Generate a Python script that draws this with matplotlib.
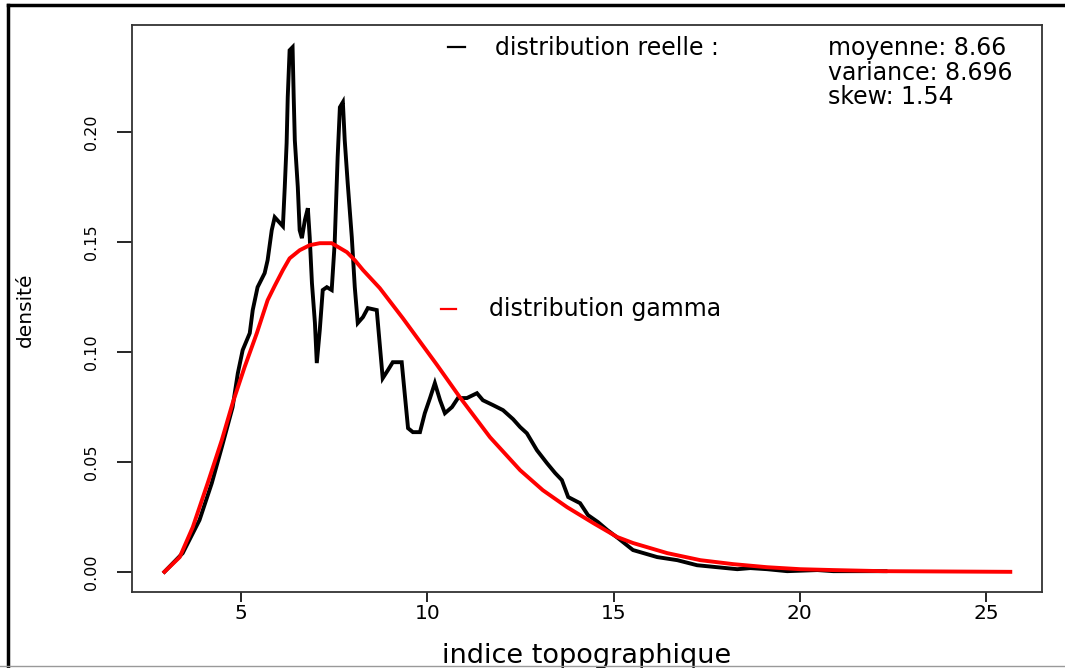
import numpy as np
import matplotlib
matplotlib.use('Agg')
from matplotlib import pyplot as plt
from matplotlib.lines import Line2D

x_reel = [2.94, 3.43, 3.88, 4.21, 4.48, 4.77, 4.91, 5.04, 5.23, 5.31, 5.44, 5.63,
          5.71, 5.82, 5.90, 6.12, 6.17, 6.22, 6.25, 6.30, 6.38, 6.41, 6.44, 6.52,
          6.57, 6.63, 6.71, 6.79, 6.84, 6.90, 6.98, 7.03, 7.11, 7.19, 7.30, 7.43,
          7.51, 7.59, 7.65, 7.73, 7.78, 7.86, 7.97, 8.05, 8.13, 8.27, 8.40, 8.64,
          8.80, 8.94, 9.07, 9.31, 9.40, 9.48, 9.61, 9.80, 9.93, 10.07, 10.20, 10.34,
          10.47, 10.66, 10.82, 11.06, 11.33, 11.49, 11.76, 12.03, 12.30, 12.49, 12.67,
          12.94, 13.21, 13.43, 13.61, 13.78, 14.10, 14.31, 14.58, 14.83, 15.12, 15.52,
          16.17, 16.71, 17.24, 17.78, 18.32, 18.67, 19.12, 19.66, 20.47, 20.90, 22.30]
y_reel = [0.0000, 0.0085, 0.0235, 0.0403, 0.0567, 0.0749, 0.0903, 0.1008, 0.1085,
          0.1190, 0.1294, 0.1358, 0.1417, 0.1553, 0.1612, 0.1571, 0.1749, 0.1949,
          0.2158, 0.2371, 0.2385, 0.2158, 0.1962, 0.1749, 0.1553, 0.1517, 0.1599,
          0.1653, 0.1521, 0.1312, 0.1131, 0.0949, 0.1099, 0.1281, 0.1294, 0.1281,
          0.1494, 0.1885, 0.2112, 0.2135, 0.1962, 0.1767, 0.1521, 0.1294, 0.1131,
          0.1158, 0.1199, 0.1190, 0.0880, 0.0917, 0.0953, 0.0953, 0.0794, 0.0653,
          0.0635, 0.0635, 0.0721, 0.0790, 0.0858, 0.0780, 0.0721, 0.0749, 0.0790,
          0.0790, 0.0812, 0.0780, 0.0758, 0.0735, 0.0694, 0.0658, 0.0630, 0.0553,
          0.0494, 0.0449, 0.0417, 0.0340, 0.0312, 0.0258, 0.0226, 0.0190, 0.0153,
          0.0099, 0.0067, 0.0053, 0.0030, 0.0021, 0.0012, 0.0017, 0.0012, 0.0003,
          0.0008, 0.0003, 0.0003]

# fitted gamma density (red)
x_gamma = [2.94, 3.35, 3.70, 4.10, 4.48, 4.77, 5.09, 5.42, 5.71, 5.90, 6.12, 6.30,
           6.57, 6.84, 7.11, 7.43, 7.84, 8.05, 8.27, 8.72, 9.34, 10.26, 10.87, 11.68,
           11.95, 12.49, 13.10, 13.75, 14.45, 15.10, 15.52, 16.44, 17.33, 18.21,
           19.12, 20.01, 20.90, 22.24, 25.65]
y_gamma = [0.0000, 0.0067, 0.0203, 0.0403, 0.0599, 0.0767, 0.0930, 0.1085, 0.1235,
           0.1300, 0.1372, 0.1425, 0.1462, 0.1485, 0.1494, 0.1494, 0.1453, 0.1417,
           0.1372, 0.1290, 0.1153, 0.0940, 0.0794, 0.0612, 0.0562, 0.0462, 0.0371,
           0.0294, 0.0222, 0.0158, 0.0131, 0.0085, 0.0053, 0.0035, 0.0021, 0.0012,
           0.0008, 0.0003, 0.0000]

x_ticks = [5, 10, 15, 20, 25]
y_ticks = [0.00, 0.05, 0.10, 0.15, 0.20]
stats = ['moyenne: 8.66', 'variance: 8.696', 'skew: 1.54']

fig = plt.figure(figsize=(10.65, 6.68), dpi=100)
ax = fig.add_axes([0.124, 0.114, 0.854, 0.8486])

ax.plot(x_reel, y_reel, color='black', lw=2.8, solid_joinstyle='miter')
ax.plot(x_gamma, y_gamma, color='red', lw=2.8)

ax.set_xlim(2.07, 26.49)
ax.set_ylim(-0.0091, 0.2486)
ax.set_xticks(x_ticks)
ax.set_xticklabels([str(v) for v in x_ticks], fontsize=14.5)
ax.set_yticks(y_ticks)
ax.set_yticklabels(['%.2f' % v for v in y_ticks], fontsize=11.5, rotation=90, va='center')
ax.tick_params(axis='y', length=11, width=1.2, pad=13)
ax.tick_params(axis='x', length=7, width=1.2, pad=2)
for s in ax.spines.values():
    s.set_color('#333333')
    s.set_linewidth(1.3)

ax.set_xlabel('indice topographique', fontsize=19.5, va='center')
ax.xaxis.set_label_coords(0.5, -0.113)
ax.set_ylabel('densité', fontsize=14.5, va='center')
ax.yaxis.set_label_coords(-0.1176, 0.497)

# legend texts
ax.plot([0.347, 0.366], [0.961, 0.961], transform=ax.transAxes, color='black', lw=1.6)
ax.text(0.399, 0.959, 'distribution reelle :', transform=ax.transAxes,
        fontsize=17, va='center', ha='left')
for i, s in enumerate(stats):
    ax.text(0.765, 0.959 - i * 0.043, s, transform=ax.transAxes,
            fontsize=17, va='center', ha='left')
ax.plot([0.3396, 0.356], [0.499, 0.499], transform=ax.transAxes, color='red', lw=1.6)
ax.text(0.393, 0.499, 'distribution gamma', transform=ax.transAxes,
        fontsize=17, va='center', ha='left')

# outer frame of the original figure
fig.add_artist(Line2D([8 / 1065, 1], [1 - 5 / 668, 1 - 5 / 668], color='black', lw=2.5))
fig.add_artist(Line2D([8 / 1065, 8 / 1065], [0, 1 - 5 / 668], color='black', lw=2.5))
fig.add_artist(Line2D([0, 1], [2 / 668, 2 / 668], color='#999999', lw=1))

fig.savefig('out.png', dpi=100)
